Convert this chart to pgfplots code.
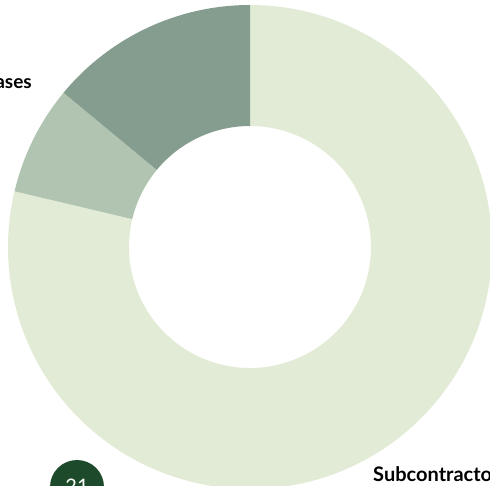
\documentclass[border=0pt]{standalone}
\usepackage{fontspec}
\setmainfont{Lato}
\usepackage{pgfplots}
\pgfplotsset{compat=1.18}
\usepackage{pgfplotstable}
\definecolor{cLight}{HTML}{E2EBD5}
\definecolor{cMid}{HTML}{B0C4B1}
\definecolor{cDark}{HTML}{849D8F}
\definecolor{cBadge}{HTML}{1C4A2B}
\pgfplotstableread{
label value
Subcontractors 78.7
Other 7.3
Purchases 14.0
}\datatable
\begin{document}
\begin{tikzpicture}
\useasboundingbox (0,0) rectangle (490bp,486bp);
\clip (0,0) rectangle (490bp,486bp);
\pgfplotstablegetelem{0}{value}\of\datatable \pgfmathsetmacro{\vA}{\pgfplotsretval}
\pgfplotstablegetelem{1}{value}\of\datatable \pgfmathsetmacro{\vB}{\pgfplotsretval}
\pgfplotstablegetelem{2}{value}\of\datatable \pgfmathsetmacro{\vC}{\pgfplotsretval}
\pgfmathsetmacro{\aA}{90}
\pgfmathsetmacro{\aB}{90-3.6*\vA}
\pgfmathsetmacro{\aC}{\aB-3.6*\vB}
\pgfmathsetmacro{\aD}{\aC-3.6*\vC}
\begin{axis}[
  at={(0,0)}, anchor=origin,
  x=1bp, y=1bp, xmin=0, xmax=490, ymin=0, ymax=486,
  scale only axis, hide axis, clip=true,
]
\fill[cLight] (axis cs:250,239) ++(\aA:242bp) arc[start angle=\aA, end angle=\aB, radius=242bp] -- ++(\aB:-121bp) arc[start angle=\aB, end angle=\aA, radius=121bp] -- cycle;
\fill[cMid] (axis cs:250,239) ++(\aB:242bp) arc[start angle=\aB, end angle=\aC, radius=242bp] -- ++(\aC:-121bp) arc[start angle=\aC, end angle=\aB, radius=121bp] -- cycle;
\fill[cDark] (axis cs:250,239) ++(\aC:242bp) arc[start angle=\aC, end angle=\aD, radius=242bp] -- ++(\aD:-121bp) arc[start angle=\aD, end angle=\aC, radius=121bp] -- cycle;
\node[anchor=base east, inner sep=0pt, font=\fontsize{19bp}{23bp}\selectfont\bfseries] at (axis cs:32,397) {Purchases};
\node[anchor=base west, inner sep=0pt, font=\fontsize{20bp}{24bp}\selectfont\bfseries] at (axis cs:373,5) {Subcontractors};
\fill[cBadge] (axis cs:77,-1) circle[radius=27bp];
\node[anchor=base, inner sep=0pt, text=white, font=\fontsize{20bp}{24bp}\selectfont] at (axis cs:77,-7) {21};
\end{axis}
\end{tikzpicture}
\end{document}
